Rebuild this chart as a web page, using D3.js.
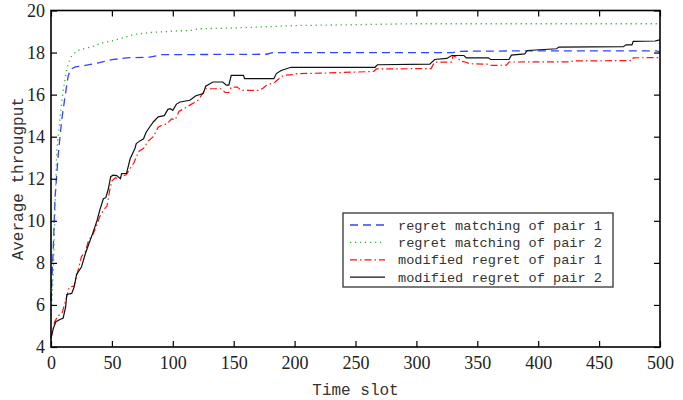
<!DOCTYPE html>
<html>
<head>
<meta charset="utf-8">
<script src="https://cdn.jsdelivr.net/npm/d3@7"></script>
<style>
  body { margin: 0; background: #fff; }
  svg { display: block; }
</style>
</head>
<body>
<svg width="683" height="400"></svg>
<script>
// [time slot, average throughput]
const regretPair1 = [[0,6.2],[2,8.9],[3.3,11.1],[6,13.2],[8.8,14.8],[11.5,15.9],[14,16.85],[16,17.2],[20,17.32],[28,17.39],[38,17.5],[50,17.66],[62,17.75],[81,17.78],[91,17.9],[177,17.92],[182,18.0],[330,18.0],[336,18.06],[390,18.08],[497,18.08],[500,18.03]];
const regretPair2 = [[0,5.5],[1,6.5],[2,7.7],[3.3,10.5],[4.7,13.3],[7.4,14.9],[10,16.2],[12.9,17.2],[15,17.6],[17,17.85],[22,18.1],[28,18.2],[35,18.3],[41,18.45],[50,18.55],[58,18.68],[68,18.86],[81,18.95],[100,19.02],[114,19.05],[122,19.13],[150,19.17],[183,19.24],[204,19.29],[245,19.32],[295,19.37],[500,19.37]];
const modifiedPair1 = [[0,4.4],[3,5.2],[6,5.5],[9,5.6],[12,6.2],[15,6.85],[19,6.9],[22,7.6],[25,8.3],[28,8.5],[31,9.1],[34,9.3],[37,9.7],[40,10.2],[43,10.5],[46,10.7],[48,11.4],[50,11.9],[53,12.05],[55,12.0],[58,12.1],[62,12.2],[65,12.5],[68,12.75],[72,13.3],[76,13.45],[80,13.8],[84,14.0],[88,14.45],[91,14.55],[95,14.6],[99,14.85],[102,14.8],[105,15.2],[109,15.33],[114,15.5],[117,15.6],[121,15.75],[125,16.1],[127,16.28],[140,16.28],[143,16.1],[146,16.1],[148,16.36],[153,16.36],[156,16.2],[170,16.2],[174,16.3],[177,16.44],[184,16.6],[188,16.8],[191,16.92],[199,16.95],[202,17.0],[221,17.02],[265,17.1],[267,17.22],[312,17.24],[315,17.55],[329,17.55],[330,17.85],[334,17.75],[336,17.6],[340,17.55],[344,17.47],[358,17.45],[361,17.39],[374,17.4],[376,17.55],[426,17.56],[429,17.6],[477,17.62],[478,17.75],[500,17.76]];
const modifiedPair2 = [[0,4.45],[2,4.9],[4,5.2],[7,5.3],[10,5.38],[12,5.9],[13,6.5],[17,6.55],[19,6.85],[21,7.45],[25,7.8],[28,8.4],[31,8.9],[33,9.2],[36,9.7],[38,10.05],[40,10.5],[43,11.05],[45,11.1],[47,11.5],[49,12.1],[51,12.17],[54,12.15],[57,12.0],[58,12.24],[62,12.25],[65,12.95],[69,13.45],[70,13.67],[73,13.8],[76,13.9],[78,14.2],[81,14.46],[84,14.7],[88,14.94],[93,15.0],[96,15.3],[98,15.33],[100,15.25],[103,15.55],[106,15.65],[114,15.73],[119,15.95],[125,16.05],[127,16.4],[133,16.6],[141,16.6],[144,16.45],[146,16.45],[148,16.92],[158,16.92],[159,16.76],[183,16.76],[185,17.0],[189,17.15],[197,17.3],[266,17.3],[268,17.42],[311,17.45],[315,17.67],[325,17.72],[329,17.86],[339,17.86],[341,17.75],[359,17.75],[361,17.67],[376,17.67],[378,17.88],[389,17.94],[391,18.1],[415,18.18],[417,18.26],[470,18.28],[472,18.37],[477,18.37],[478,18.53],[496,18.55],[498,18.58],[500,18.6]];

const xTicks = [0,50,100,150,200,250,300,350,400,450,500];
const yTicks = [4,6,8,10,12,14,16,18,20];
const seriesNames = ["regret matching of pair 1","regret matching of pair 2","modified regret of pair 1","modified regret of pair 2"];

const serifFont = "'Liberation Serif', 'DejaVu Serif', serif";
const monoFont = "'Liberation Mono', monospace";

const svg = d3.select("svg");
const m = { left: 51, right: 660, top: 10.5, bottom: 347 };

const x = d3.scaleLinear().domain([0, 500]).range([m.left, m.right]);
const y = d3.scaleLinear().domain([4, 20]).range([m.bottom, m.top]);

const styles = [
  { data: regretPair1, color: "#3344ff", dash: "8,5", width: 1.3 },
  { data: regretPair2, color: "#33aa33", dash: "1.2,3.8", width: 1.3 },
  { data: modifiedPair1, color: "#ff1111", dash: "7,3,1.5,3", width: 1.2 },
  { data: modifiedPair2, color: "#111111", dash: null, width: 1.2 }
];

const line = d3.line().x(d => x(d[0])).y(d => y(d[1]));

styles.forEach(s => {
  svg.append("path")
    .datum(s.data)
    .attr("d", line)
    .attr("fill", "none")
    .attr("stroke", s.color)
    .attr("stroke-width", s.width)
    .attr("stroke-dasharray", s.dash);
});

// axes with inward ticks on all four sides
const tl = 6;
svg.append("g").attr("transform", `translate(0,${m.bottom})`)
  .call(d3.axisBottom(x).tickValues(xTicks).tickSizeInner(-tl).tickSizeOuter(0).tickPadding(9))
  .call(g => g.select(".domain").remove());
svg.append("g").attr("transform", `translate(0,${m.top})`)
  .call(d3.axisTop(x).tickValues(xTicks).tickSizeInner(-tl).tickSizeOuter(0).tickFormat(""))
  .call(g => g.select(".domain").remove());
svg.append("g").attr("transform", `translate(${m.left},0)`)
  .call(d3.axisLeft(y).tickValues(yTicks).tickSizeInner(-tl).tickSizeOuter(0).tickPadding(6))
  .call(g => g.select(".domain").remove());
svg.append("g").attr("transform", `translate(${m.right},0)`)
  .call(d3.axisRight(y).tickValues(yTicks).tickSizeInner(-tl).tickSizeOuter(0).tickFormat(""))
  .call(g => g.select(".domain").remove());
svg.selectAll(".tick line").attr("stroke", "#000").attr("stroke-width", 1.2);
svg.selectAll(".tick text")
  .style("font-family", serifFont).style("font-size", "18px").attr("fill", "#222");

svg.append("rect")
  .attr("x", m.left).attr("y", m.top)
  .attr("width", m.right - m.left).attr("height", m.bottom - m.top)
  .attr("fill", "none").attr("stroke", "#000").attr("stroke-width", 1.6);

svg.append("text")
  .attr("x", (m.left + m.right) / 2).attr("y", 395)
  .attr("text-anchor", "middle")
  .style("font-family", monoFont).style("font-size", "16px").attr("fill", "#333")
  .text("Time slot");
svg.append("text")
  .attr("transform", `translate(23,${(m.top + m.bottom) / 2}) rotate(-90)`)
  .attr("text-anchor", "middle")
  .style("font-family", monoFont).style("font-size", "16px").attr("fill", "#333")
  .text("Average througput");

// legend
const lg = svg.append("g").attr("transform", "translate(343,213)");
lg.append("rect").attr("width", 270).attr("height", 74)
  .attr("fill", "#fff").attr("stroke", "#333").attr("stroke-width", 1.3);
seriesNames.forEach((name, i) => {
  const yy = 12 + i * 17.4;
  lg.append("line").attr("x1", 7).attr("x2", 42).attr("y1", yy).attr("y2", yy)
    .attr("stroke", styles[i].color).attr("stroke-width", styles[i].width)
    .attr("stroke-dasharray", styles[i].dash);
  lg.append("text").attr("x", 55).attr("y", yy + 4.5)
    .style("font-family", monoFont).style("font-size", "13.6px").attr("fill", "#333")
    .text(name);
});
</script>
</body>
</html>
